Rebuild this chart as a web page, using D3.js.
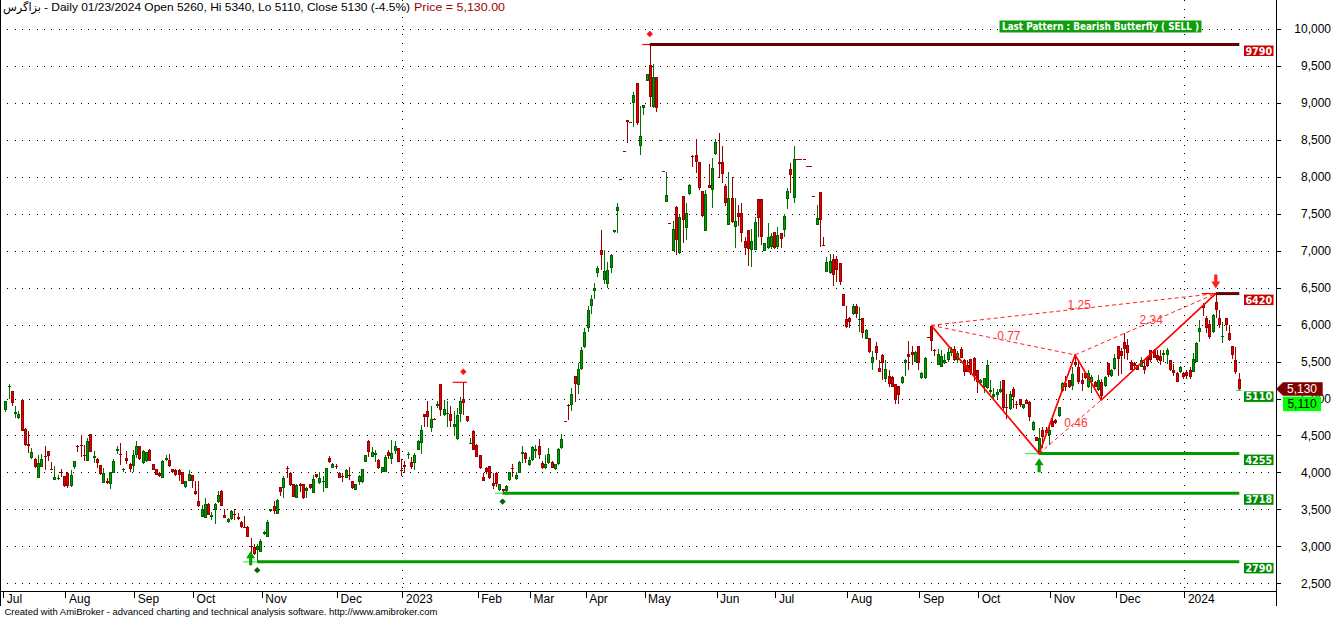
<!DOCTYPE html>
<html><head><meta charset="utf-8">
<script src="https://cdn.jsdelivr.net/npm/d3@7"></script>
<style>body{margin:0;background:#fff}svg{display:block}</style>
</head><body>
<svg id="c" width="1336" height="619"></svg>
<script>
// ---------- DATA ----------
// daily bars [open, high, low, close]
const ohlc = [
[4840,4970,4820,4960],[5160,5190,5000,5170],[5100,5100,4900,4945],[4790,4900,4740,4820],[4740,4830,4720,4795],
[4980,4990,4560,4565],[4590,4600,4360,4370],[4385,4565,4267,4362],[4200,4330,4180,4277],[4186,4200,4060,4078],
[3920,4235,3920,4132],[4078,4250,4070,4177],[4220,4357,4035,4205],[4290,4290,4150,4220],[4048,4140,4030,4035],
[3900,4090,3900,3940],[3910,3960,3900,3930],[4000,4050,3940,3990],[3948,3950,3800,3810],[3994,4000,3790,3810],
[3810,4030,3800,3970],[4078,4160,4050,4150],[4360,4370,4270,4350],[4370,4500,4210,4360],[4230,4370,4160,4220],
[4150,4460,4150,4420],[4515,4520,4280,4280],[4200,4290,4130,4220],[4180,4200,4060,4130],[4096,4100,3970,3980],
[3862,4060,3860,3990],[3890,3930,3840,3860],[3840,4010,3770,4000],[3990,4180,3990,4155],[4290,4360,4250,4320],
[4250,4400,4100,4240],[4030,4060,4010,4040],[4200,4290,4120,4150],[4120,4130,4010,4050],[4086,4300,4010,4232],
[4235,4420,4200,4357],[4357,4360,4170,4177],[4130,4300,4120,4290],[4150,4280,4140,4270],[4300,4320,4150,4155],
[4110,4120,4030,4033],[4048,4050,3960,3966],[3994,4000,3940,3950],[3930,4170,3930,4155],[4170,4230,4150,4200],
[4170,4250,4070,4086],[4040,4050,3990,4000],[4030,4040,3950,3970],[4030,4040,3890,3960],[4005,4010,3840,3846],
[3800,3890,3790,3880],[3885,4030,3880,3980],[3960,3970,3790,3885],[3750,3880,3700,3710],[3620,3880,3530,3540],
[3400,3560,3400,3500],[3390,3650,3390,3570],[3570,3580,3420,3425],[3400,3470,3350,3420],[3490,3590,3300,3570],
[3600,3750,3590,3690],[3750,3760,3540,3540],[3425,3500,3380,3390],[3330,3380,3320,3370],[3365,3490,3360,3480],
[3440,3510,3350,3430],[3400,3450,3350,3370],[3330,3340,3250,3260],[3260,3410,3250,3250],[3260,3270,3120,3130],
[3000,3110,2860,2990],[2990,3030,2880,2900],[2950,3030,2790,3000],[2930,3100,2920,3070],[3170,3210,3160,3200],
[3120,3350,3120,3330],[3480,3510,3470,3500],[3550,3610,3440,3480],[3440,3640,3440,3630],[3800,3800,3680,3740],
[3790,3950,3660,3920],[4060,4085,3920,4040],[3990,4000,3820,3830],[3840,3850,3670,3670],[3650,3840,3650,3830],
[3850,3860,3730,3820],[3850,3850,3640,3660],[3750,3800,3660,3790],[3840,3850,3780,3790],[3720,3960,3720,3910],
[3975,3980,3930,3935],[3860,4000,3850,3920],[3870,3950,3740,3890],[3790,4060,3790,4055],[4190,4220,4130,4145],
[4055,4130,4055,4115],[4090,4110,4040,4070],[3995,4000,3920,3925],[3950,3990,3870,3940],[3925,4050,3920,4030],
[3960,4070,3900,3950],[3890,3890,3780,3785],[3765,3850,3760,3845],[3875,3960,3830,3950],[3865,4050,3860,4050],
[4140,4240,4140,4230],[4430,4440,4210,4280],[4215,4340,4210,4270],[4230,4310,4140,4260],[4175,4180,4040,4065],
[4010,4080,4000,4070],[4005,4240,4000,4215],[4275,4310,4180,4225],[4180,4440,4120,4260],[4290,4420,4250,4355],
[4325,4330,4145,4145],[4030,4180,3950,4020],[4100,4160,3990,4080],[4230,4280,4180,4250],[4140,4210,4040,4080],
[4125,4260,4030,4235],[4310,4440,4300,4425],[4395,4640,4250,4575],[4785,4785,4620,4755],[4830,4970,4620,4755],
[4605,4900,4550,4720],[4720,4730,4710,4720],[4900,4960,4870,4930],[5195,5200,4770,4845],[4780,4980,4770,4855],
[4800,4970,4620,4810],[4790,4900,4620,4690],[4620,4830,4490,4650],[4450,4870,4440,4780],[4790,5020,4680,4967],
[4995,5220,4780,4935],[4760,4770,4680,4690],[4390,4460,4380,4400],[4560,4570,4300,4310],[4370,4380,4210,4215],
[4235,4240,4050,4055],[3935,3990,3880,3890],[4055,4080,3980,4010],[4085,4090,3910,3920],[3860,3990,3780,3815],
[3990,4000,3800,3845],[3765,3850,3750,3840],[3770,3780,3718,3750],[3745,3830,3740,3820],[3900,4010,3890,4000],
[4060,4120,3940,4050],[3905,4010,3900,3965],[3990,4160,3990,4145],[4250,4360,4130,4270],[4260,4280,4130,4180],
[4100,4210,4090,4165],[4165,4360,4150,4340],[4290,4370,4200,4320],[4355,4450,4180,4235],[4125,4150,4040,4055],
[4055,4240,4050,4110],[4125,4330,4120,4245],[4145,4150,4055,4055],[4040,4120,4030,4110],[4110,4330,4100,4315],
[4330,4520,4320,4450],[4700,4700,4700,4700],[4910,4920,4710,4900],[4910,5140,4830,5060],[5300,5310,4950,5195],
[5180,5480,5060,5395],[5400,5700,5380,5650],[5700,5950,5680,5900],[5950,6250,5900,6200],[6250,6400,6150,6350],
[6450,6560,6350,6500],[6700,6800,6650,6770],[7010,7280,6740,6945],[6600,7010,6550,6720],[6550,6850,6500,6740],
[6770,6950,6700,6945],[7250,7280,7240,7280],[7540,7645,7240,7585],[7965,7965,7965,7965],[8350,8350,8350,8350],
[8770,8770,8460,8740],[8740,8740,8740,8740],[8995,9150,8680,9110],[9270,9270,8700,8725],[8420,8960,8295,8550],
[8925,8970,8830,8970],[9290,9390,9290,9390],[9510,9790,8940,9085],[8950,9525,8925,9345],[9345,9345,8880,8925],
[8500,8500,8500,8500],[8080,8080,8080,8080],[7665,8070,7665,7755],[7370,7370,7370,7370],[7000,7400,6990,7290],
[7595,7600,6945,7145],[6975,7500,6960,7450],[7740,7740,7100,7415],[7305,7640,7140,7515],[7765,7900,7760,7890],
[8280,8290,8130,8265],[8295,8510,8050,8205],[8195,8200,7820,7855],[7805,7810,7460,7465],[7270,7820,7270,7770],
[7890,8180,7850,7855],[7820,8250,7580,8115],[8305,8510,8290,8465],[8200,8590,7980,8180],[8195,8420,7920,8040],
[7875,7900,7600,7650],[7350,8060,7350,7710],[7710,8000,7380,7395],[7325,7720,7040,7400],[7510,7620,7340,7450],
[7510,7650,7120,7235],[7130,7190,6940,7040],[7280,7280,6800,7020],[7010,7290,6780,7125],[7010,7460,7010,7395],
[7695,7695,7190,7440],[7695,7695,7080,7190],[7000,7110,7000,7100],[7040,7370,7020,7180],[7050,7240,7030,7200],
[7250,7250,7020,7040],[7045,7320,7020,7215],[7235,7240,7040,7155],[7280,7500,7190,7470],[7695,7850,7570,7810],
[8100,8185,7780,8025],[7710,8420,7645,8235],[8235,8235,8235,8235],[8235,8235,8235,8235],[8235,8235,8235,8235],
[8145,8145,8145,8145],[8145,8145,8145,8145],[7740,7740,7740,7740],[7350,7620,7350,7440],[7800,7800,7055,7415],
[7080,7180,7060,7075],[6715,6910,6715,6850],[6700,6960,6690,6860],[6885,6960,6520,6670],[6885,6930,6570,6740],
[6840,6840,6530,6570],[6410,6420,6250,6255],[6070,6250,5960,5970],[6085,6100,5960,6040],[6150,6280,6130,6250],
[6250,6280,6090,6140],[6060,6240,5900,6080],[6085,6090,5820,5890],[5800,5940,5800,5930],[5815,5815,5620,5635],
[5485,5640,5380,5565],[5710,5760,5520,5620],[5410,5520,5360,5365],[5590,5600,5250,5475],[5260,5520,5220,5395],
[5305,5390,5160,5195],[5295,5300,5150,5160],[5195,5200,4920,4980],[5170,5170,4930,5045],[5215,5300,5200,5285],
[5475,5530,5310,5520],[5600,5780,5390,5565],[5635,5710,5460,5590],[5500,5640,5490,5635],[5710,5710,5380,5485],
[5275,5360,5270,5350],[5275,5560,5270,5555],[5830,5830,5830,5830],[5980,5990,5640,5785],[5660,5670,5580,5650],
[5455,5670,5455,5600],[5420,5660,5420,5575],[5480,5600,5470,5515],[5515,5690,5500,5635],[5610,5700,5580,5670],
[5665,5710,5510,5515],[5520,5640,5480,5620],[5665,5700,5580,5555],[5520,5540,5300,5365],[5450,5520,5410,5365],
[5530,5540,5320,5350],[5555,5560,5240,5305],[5380,5390,5070,5230],[5205,5260,5190,5245],[5150,5280,5070,5275],
[5140,5520,5130,5455],[5090,5250,5060,5110],[5015,5140,5000,5060],[5045,5130,4990,5090],[5090,5240,5070,5125],
[5250,5250,4850,4870],[4880,5060,4720,4870],[4855,5100,4850,5055],[5135,5150,4870,5025],[4920,4970,4860,4910],
[4990,5000,4890,4910],[4870,4930,4860,4925],[4975,4990,4920,4925],[4955,4960,4700,4755],[4575,4690,4560,4680],
[4475,4480,4430,4430],[4265,4600,4255,4460],[4570,4620,4330,4485],[4575,4610,4530,4530],[4505,4660,4370,4575],
[4700,4740,4620,4620],[4710,4720,4660,4665],[4770,4890,4750,4890],[5105,5230,5090,5205],[5205,5300,5100,5150],
[5245,5250,5140,5150],[5165,5420,5120,5330],[5500,5590,5430,5450],[5430,5500,5200,5230],[5245,5340,5100,5195],
[5340,5350,5260,5275],[5150,5380,5140,5340],[5230,5320,5080,5290],[5230,5240,5150,5150],[5115,5320,5100,5250],
[5230,5260,4980,5035],[5170,5310,5160,5290],[5475,5480,5290,5320],[5305,5400,5290,5385],[5395,5600,5390,5545],
[5710,5710,5300,5530],[5640,5680,5330,5580],[5760,5890,5530,5665],[5725,5810,5520,5620],[5500,5520,5380,5385],
[5480,5500,5380,5440],[5450,5460,5380,5380],[5430,5560,5420,5520],[5440,5520,5330,5380],[5560,5570,5430,5440],
[5650,5660,5490,5520],[5660,5670,5550,5550],[5590,5650,5500,5520],[5580,5650,5460,5510],[5590,5650,5490,5620],
[5590,5680,5470,5655],[5520,5520,5370,5385],[5385,5470,5300,5340],[5350,5360,5230,5230],[5360,5440,5350,5430],
[5340,5360,5270,5290],[5360,5390,5260,5310],[5390,5430,5260,5290],[5365,5610,5365,5530],[5500,5760,5500,5750],
[5905,6060,5760,5950],[6265,6290,6110,6220],[6085,6110,5880,5950],[6015,6060,5800,5835],[5905,6150,5880,6130],
[6300,6420,6090,6200],[6085,6200,5960,5995],[5840,6040,5750,5850],[6085,6085,5910,5995],[5880,5990,5780,5790],
[5710,5710,5540,5590],[5520,5700,5330,5365],[5260,5340,5110,5130]
];
const monthLabels = ["Jul","Aug","Sep","Oct","Nov","Dec","2023","Feb","Mar","Apr","May","Jun","Jul","Aug","Sep","Oct","Nov","Dec","2024"];
const monthStarts = [0,19,40,58,79,102,122,145,161,178,196,218,236,258,280,298,320,340,361];
const priceTicks = [2500,3000,3500,4000,4500,5000,5500,6000,6500,7000,7500,8000,8500,9000,9500,10000];

const levelPrices = [9790, 6420, 4255, 3718, 2790];
const levelStarts = [197, 370, 316, 152, 77];
const levelKinds  = ["high","high","low","low","low"];

const pivotIdx    = [140, 197, 370, 77, 152, 316];
const pivotPrice  = [5220, 9790, 6420, 2790, 3718, 4255];
const pivotKind   = ["high","high","high","low","low","low"];
const stubFrom    = [137, 195, 366, 73, 150, 312];
const stubTo      = [141, 197, 370, 77, 152, 316];
const pivotDiamond= [true, true, false, true, true, false];

const arrowIdx   = [75, 316, 370];
const arrowPrice = [2935, 4192, 6490];
const arrowDir   = ["up","up","down"];

const patternNames = ["X","A","B","C","D"];
const patternIdx   = [283, 316, 327, 335, 370];
const patternPrice = [5990, 4255, 5590, 4980, 6420];
const ratioFrom = ["X","A","B","X"];
const ratioTo   = ["B","C","D","D"];
const ratioText = ["0.77","0.46","2.34","1.25"];

const sideLabelPrices = [9790, 6420, 5110, 4255, 3718, 2790];
const sideLabelKinds  = ["high","high","low","low","low","low"];

const tickerName = "بزاگرس";
const titleText = "- Daily 01/23/2024 Open 5260, Hi 5340, Lo 5110, Close 5130 (-4.5%)";
const priceText = "Price = 5,130.00";
const patternLabel = "Last Pattern : Bearish Butterfly ( SELL )";
const footerText = "Created with AmiBroker - advanced charting and technical analysis software. http://www.amibroker.com";
const lastClose = 5130, lastLow = 5110;

// ---------- DRAW ----------
const W = 1336, H = 619;
const FONT = "'Liberation Sans', Arial, sans-serif";
const BOLD = "'DejaVu Sans', Verdana, sans-serif";
const svg = d3.select("#c");
svg.append("rect").attr("width", W).attr("height", H).attr("fill", "#fff");

const N = ohlc.length;
const x = d3.scaleLinear().domain([0, N - 1]).range([5.3, 1238.7]);
const y = d3.scaleLinear().domain([2500, 10000]).range([583.3, 29]);
const px = v => Math.round(v) + 0.5;
const tickX = i => x(i - 0.6);

// grid
const grid = svg.append("g").attr("shape-rendering", "crispEdges");
priceTicks.forEach(v => {
  grid.append("line").attr("x1", 0).attr("x2", 1271)
    .attr("y1", px(y(v))).attr("y2", px(y(v)))
    .attr("stroke", "#000").attr("stroke-dasharray", "1,6.33");
});
monthLabels.forEach((m, k) => {
  if (/^\d{4}$/.test(m)) {
    grid.append("line").attr("x1", px(tickX(monthStarts[k]))).attr("x2", px(tickX(monthStarts[k])))
      .attr("y1", 0).attr("y2", 591).attr("stroke", "#000").attr("stroke-dasharray", "1,7.5");
  }
});

// axes
const xa = d3.axisBottom(x).tickValues(monthStarts.map(i => i - 0.6))
  .tickFormat((d, k) => monthLabels[k]).tickSize(6).tickSizeOuter(0);
const gx = svg.append("g").attr("transform", "translate(0,591.5)").call(xa);
gx.select(".domain").remove();
gx.selectAll("line").attr("stroke", "#000").attr("shape-rendering", "crispEdges");
gx.selectAll("text").attr("text-anchor", "start").attr("x", 3).attr("y", 3)
  .attr("font-family", FONT).attr("font-size", 12).attr("fill", "#000");

const ya = d3.axisRight(y).tickValues(priceTicks).tickFormat(d3.format(",")).tickSize(5).tickSizeOuter(0);
const gy = svg.append("g").attr("transform", "translate(1276,0)").call(ya);
gy.select(".domain").remove();
gy.selectAll("line").attr("stroke", "#000").attr("shape-rendering", "crispEdges");
gy.selectAll("text").attr("text-anchor", "end").attr("x", 55)
  .attr("font-family", FONT).attr("font-size", 12).attr("fill", "#000");

// frame lines
const frame = svg.append("g").attr("stroke", "#000").attr("shape-rendering", "crispEdges");
frame.append("line").attr("x1", 0).attr("x2", 1277).attr("y1", 591.5).attr("y2", 591.5);
frame.append("line").attr("x1", 1276.5).attr("x2", 1276.5).attr("y1", 0).attr("y2", 606);
frame.append("line").attr("x1", 0.5).attr("x2", 0.5).attr("y1", 0).attr("y2", 606);

// candles
const cg = svg.append("g").attr("shape-rendering", "crispEdges");
ohlc.forEach((d, i) => {
  const [o, h, l, c] = d;
  const cx = Math.round(x(i));
  if (h === l) {
    cg.append("line").attr("x1", cx - 1).attr("x2", cx + 2)
      .attr("y1", px(y(c))).attr("y2", px(y(c))).attr("stroke", "#990000");
    return;
  }
  const up = c > o;
  const wick = up ? "#007000" : "#990000";
  const fill = up ? "#00a000" : "#e80000";
  const edge = up ? "#006000" : "#990000";
  cg.append("line").attr("x1", cx + 0.5).attr("x2", cx + 0.5)
    .attr("y1", y(h)).attr("y2", y(l)).attr("stroke", wick);
  const top = Math.round(y(Math.max(o, c))), bot = Math.round(y(Math.min(o, c)));
  const hh = Math.max(1, bot - top);
  cg.append("rect").attr("x", cx - 0.5).attr("y", top + 0.5)
    .attr("width", 2).attr("height", Math.max(0.01, hh - 1))
    .attr("fill", fill).attr("stroke", edge);
});

// pivot stubs
const pg = svg.append("g");
pivotIdx.forEach((pi, k) => {
  const yy = y(pivotPrice[k]);
  pg.append("line").attr("x1", x(stubFrom[k]) - 1).attr("x2", x(stubTo[k]) + 0.5)
    .attr("y1", yy).attr("y2", yy).attr("stroke-width", 1.2)
    .attr("stroke", pivotKind[k] === "high" ? "#ff0000" : "#44ee44");
});

// level lines
levelPrices.forEach((p, k) => {
  svg.append("line").attr("x1", x(levelStarts[k])).attr("x2", x(N - 1) + 0.6)
    .attr("y1", y(p)).attr("y2", y(p)).attr("stroke-width", 3)
    .attr("stroke", levelKinds[k] === "high" ? "#660000" : "#009900");
});
// last bar low marker
svg.append("line").attr("x1", x(N - 1) - 2.5).attr("x2", x(N - 1) + 2.5)
  .attr("y1", y(lastLow)).attr("y2", y(lastLow)).attr("stroke", "#33dd33").attr("stroke-width", 1.2);

// diamonds
pivotIdx.forEach((pi, k) => {
  if (!pivotDiamond[k]) return;
  const hi = pivotKind[k] === "high";
  const yy = y(pivotPrice[k]) + (hi ? -10.5 : 8.3);
  svg.append("path").attr("d", d3.symbol().type(d3.symbolDiamond2).size(26)())
    .attr("transform", `translate(${x(pi)},${yy})`)
    .attr("fill", hi ? "#ff1010" : "#006600");
});

// pattern
const P = {};
patternNames.forEach((n, k) => P[n] = { x: x(patternIdx[k]), y: y(patternPrice[k]) });
const patG = svg.append("g");
ratioFrom.forEach((f, k) => {
  const a = P[f], b = P[ratioTo[k]];
  patG.append("line").attr("x1", a.x).attr("y1", a.y).attr("x2", b.x).attr("y2", b.y)
    .attr("stroke", "#ff2020").attr("stroke-width", 1).attr("stroke-dasharray", "4,3");
});
patG.append("path")
  .attr("d", d3.line().x(n => P[n].x).y(n => P[n].y)(patternNames))
  .attr("fill", "none").attr("stroke", "#ff0000").attr("stroke-width", 1.7);
ratioFrom.forEach((f, k) => {
  const a = P[f], b = P[ratioTo[k]];
  patG.append("text").attr("x", (a.x + b.x) / 2 - 6).attr("y", (a.y + b.y) / 2)
    .attr("font-family", FONT).attr("font-size", 12).attr("fill", "#ff3838")
    .text(ratioText[k]);
});

// arrows
arrowIdx.forEach((ai, k) => {
  const cx = x(ai), ty = y(arrowPrice[k]);
  const s = arrowDir[k] === "up" ? 1 : -1;
  const col = arrowDir[k] === "up" ? "#00a000" : "#ff2020";
  const pts = [[cx, ty], [cx + 4.5, ty + s * 7], [cx + 1.6, ty + s * 7], [cx + 1.6, ty + s * 14],
               [cx - 1.6, ty + s * 14], [cx - 1.6, ty + s * 7], [cx - 4.5, ty + s * 7]];
  svg.append("polygon").attr("points", pts.map(p => p.join(",")).join(" ")).attr("fill", col);
});

// side labels for levels
sideLabelPrices.forEach((p, k) => {
  const top = y(p) + 1;
  svg.append("rect").attr("x", 1244).attr("y", top).attr("width", 29.5).attr("height", 10.5)
    .attr("fill", sideLabelKinds[k] === "high" ? "#cc0000" : "#008c00");
  svg.append("text").attr("x", 1258.8).attr("y", top + 9).attr("text-anchor", "middle")
    .attr("font-family", BOLD).attr("font-weight", "bold").attr("font-size", 9.6)
    .attr("fill", "#fff").text(p);
});

// axis price labels
const yc = y(lastClose);
svg.append("polygon")
  .attr("points", [[1276, yc], [1283, yc - 6.7], [1322.7, yc - 6.7], [1322.7, yc + 6.7], [1283, yc + 6.7]].map(p => p.join(",")).join(" "))
  .attr("fill", "#800000");
svg.append("text").attr("x", 1302).attr("y", yc + 4.2).attr("text-anchor", "middle")
  .attr("font-family", FONT).attr("font-size", 12).attr("fill", "#fff").text(d3.format(",")(lastClose));
const yl = yc + 7.7;
svg.append("rect").attr("x", 1283).attr("y", yl).attr("width", 38).attr("height", 14.5).attr("fill", "#00ff00");
svg.append("text").attr("x", 1302).attr("y", yl + 11.5).attr("text-anchor", "middle")
  .attr("font-family", FONT).attr("font-size", 12).attr("fill", "#000").text(d3.format(",")(lastLow));

// "Last Pattern" box
svg.append("rect").attr("x", 999.5).attr("y", 20.5).attr("width", 202).attr("height", 12).attr("fill", "#109e10");
svg.append("text").attr("x", 1100.5).attr("y", 30.2).attr("text-anchor", "middle")
  .attr("font-family", BOLD).attr("font-weight", "bold").attr("font-size", 9.6)
  .attr("textLength", 197).attr("lengthAdjust", "spacingAndGlyphs")
  .attr("fill", "#fff").text(patternLabel);

// title
svg.append("text").attr("x", 3).attr("y", 10.5).attr("font-family", "'DejaVu Sans', sans-serif")
  .attr("font-size", 11.5).attr("textLength", 38).attr("lengthAdjust", "spacingAndGlyphs")
  .attr("fill", "#000").text(tickerName);
svg.append("text").attr("x", 44).attr("y", 10.5).attr("font-family", FONT).attr("font-size", 10.5)
  .attr("textLength", 366).attr("lengthAdjust", "spacingAndGlyphs").attr("fill", "#000").text(titleText);
svg.append("text").attr("x", 414).attr("y", 10.5).attr("font-family", FONT).attr("font-size", 10.5)
  .attr("textLength", 91).attr("lengthAdjust", "spacingAndGlyphs").attr("fill", "#990000").text(priceText);

// footer
svg.append("text").attr("x", 4.5).attr("y", 614.5).attr("font-family", FONT).attr("font-size", 9.5)
  .attr("textLength", 433).attr("lengthAdjust", "spacingAndGlyphs").attr("fill", "#000").text(footerText);
</script>
</body></html>
